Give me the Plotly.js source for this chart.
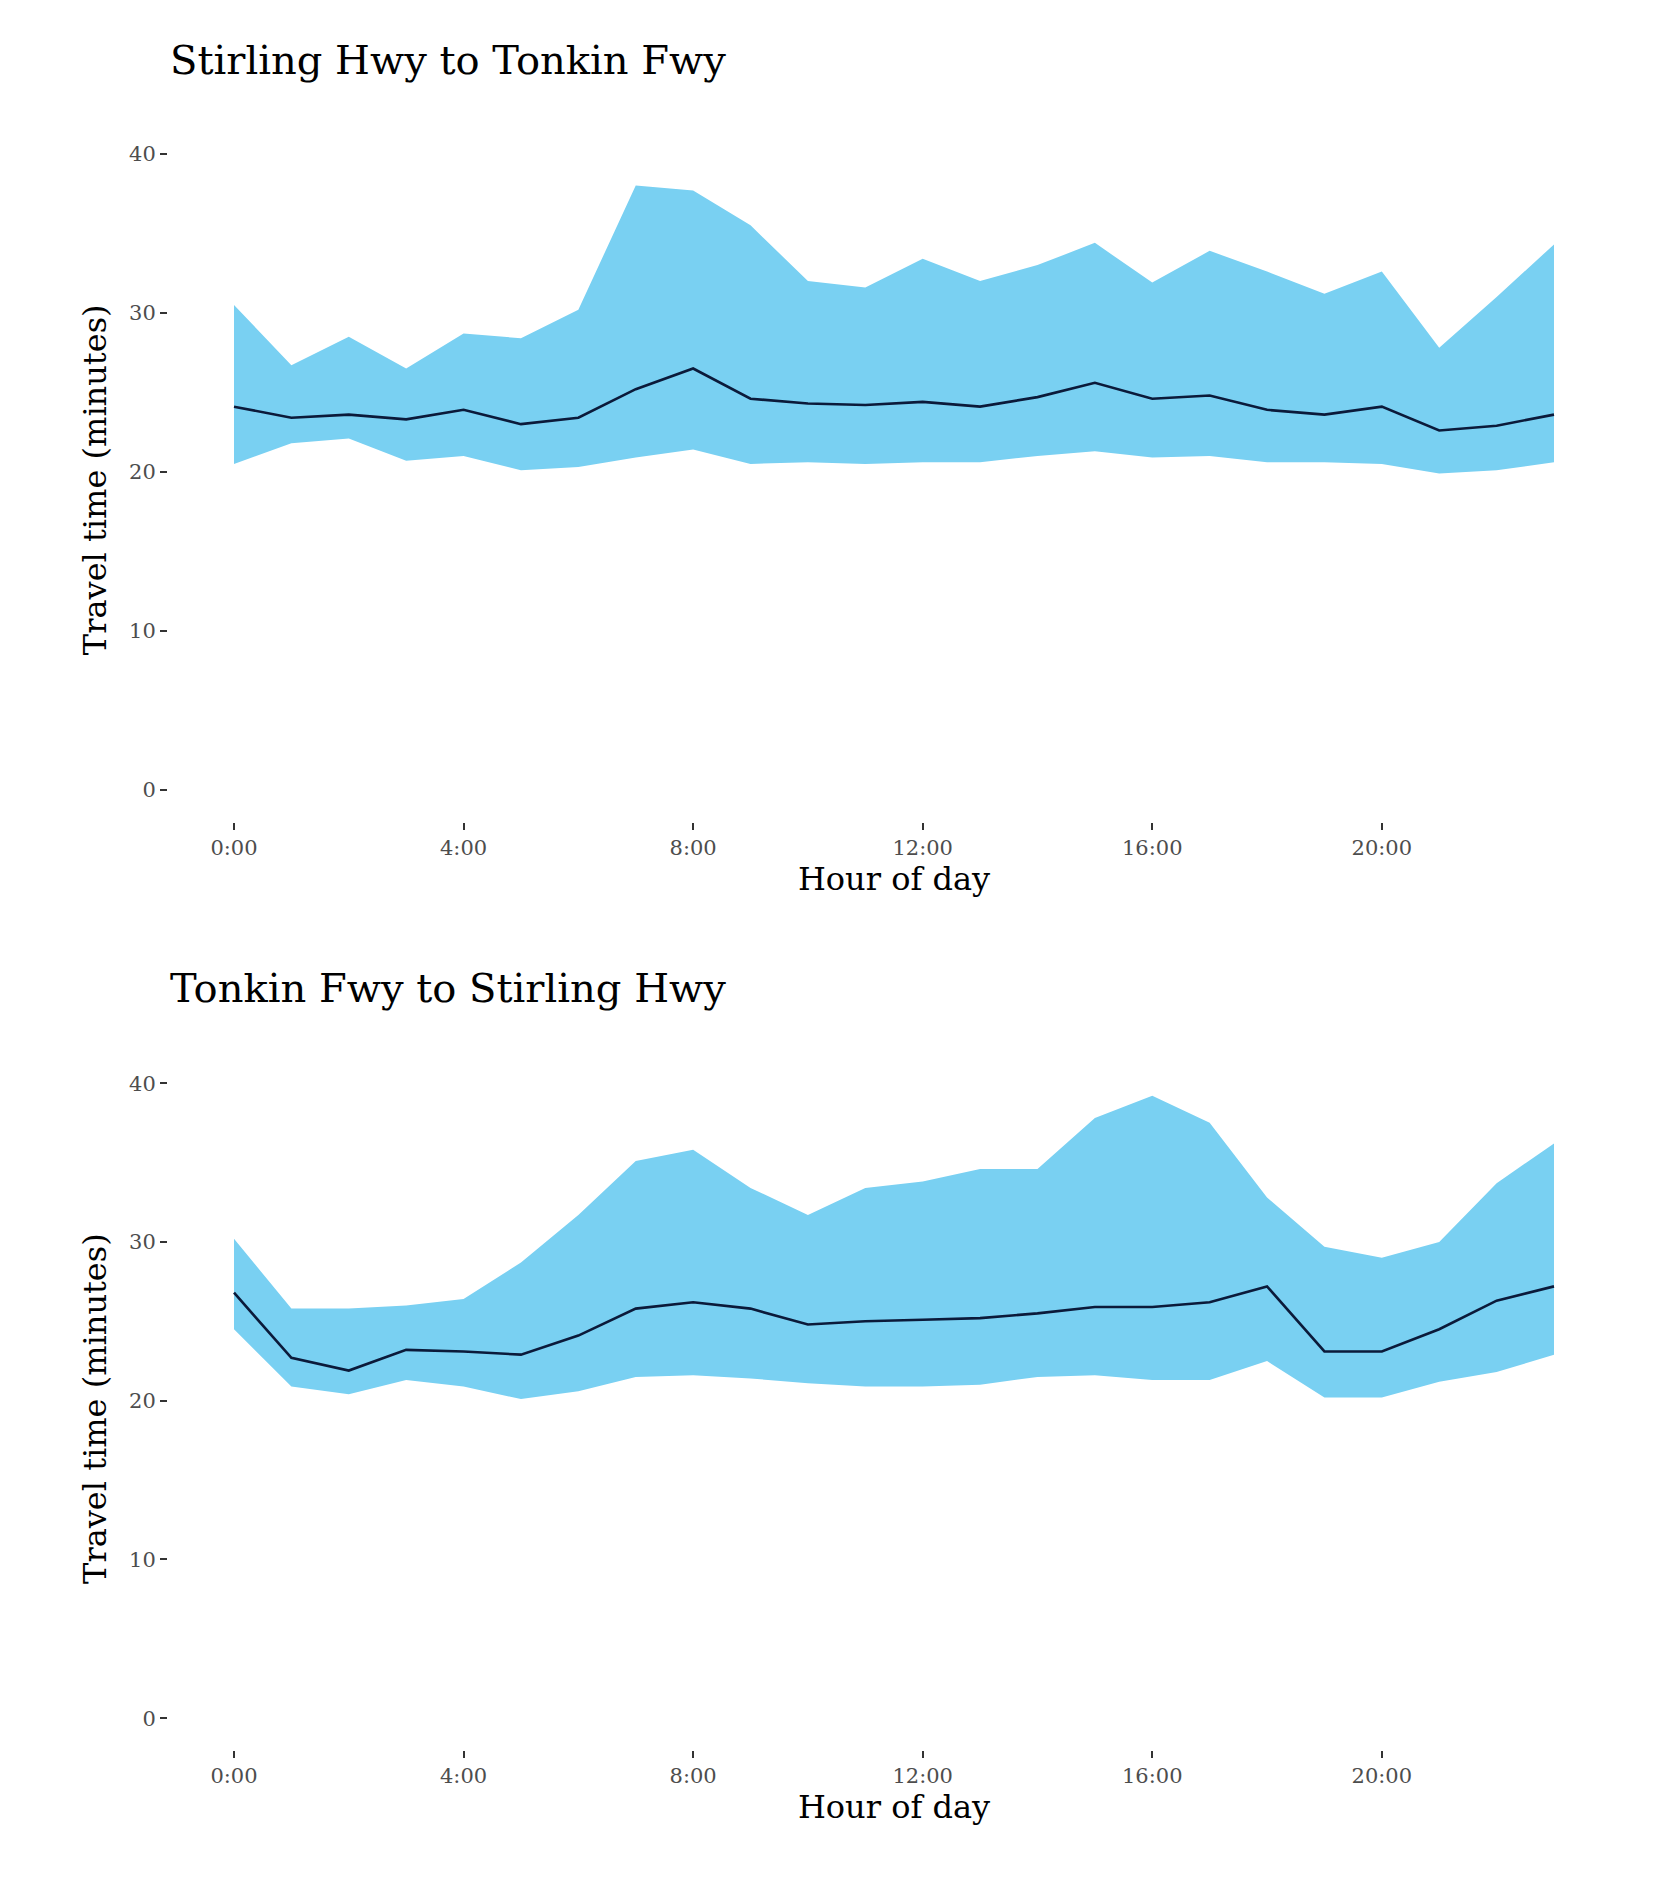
<!DOCTYPE html>
<html>
<head>
<meta charset="utf-8">
<script src="https://cdn.plot.ly/plotly-3.0.1.min.js"></script>
<style>body{margin:0;background:#fff}#chart{width:1653px;height:1889px}</style>
</head>
<body>
<div id="chart"></div>
<script>
const hours = Array.from({length: 24}, (_, i) => i);
const tickVals = [0, 4, 8, 12, 16, 20];
const tickText = ["0:00", "4:00", "8:00", "12:00", "16:00", "20:00"];

// Stirling Hwy to Tonkin Fwy
const stUpper = [30.5, 26.7, 28.5, 26.5, 28.7, 28.4, 30.2, 38.0, 37.7, 35.5, 32.0, 31.6, 33.4, 32.0, 33.0, 34.4, 31.9, 33.9, 32.6, 31.2, 32.6, 27.8, 31.0, 34.3];
const stLower = [20.5, 21.8, 22.1, 20.7, 21.0, 20.1, 20.3, 20.9, 21.4, 20.5, 20.6, 20.5, 20.6, 20.6, 21.0, 21.3, 20.9, 21.0, 20.6, 20.6, 20.5, 19.9, 20.1, 20.6];
const stMean = [24.1, 23.4, 23.6, 23.3, 23.9, 23.0, 23.4, 25.2, 26.5, 24.6, 24.3, 24.2, 24.4, 24.1, 24.7, 25.6, 24.6, 24.8, 23.9, 23.6, 24.1, 22.6, 22.9, 23.6];

// Tonkin Fwy to Stirling Hwy
const tsUpper = [30.2, 25.8, 25.8, 26.0, 26.4, 28.7, 31.7, 35.1, 35.8, 33.4, 31.7, 33.4, 33.8, 34.6, 34.6, 37.8, 39.2, 37.5, 32.8, 29.7, 29.0, 30.0, 33.7, 36.2];
const tsLower = [24.5, 20.9, 20.4, 21.3, 20.9, 20.1, 20.6, 21.5, 21.6, 21.4, 21.1, 20.9, 20.9, 21.0, 21.5, 21.6, 21.3, 21.3, 22.5, 20.2, 20.2, 21.2, 21.8, 22.9];
const tsMean = [26.8, 22.7, 21.9, 23.2, 23.1, 22.9, 24.1, 25.8, 26.2, 25.8, 24.8, 25.0, 25.1, 25.2, 25.5, 25.9, 25.9, 26.2, 27.2, 23.1, 23.1, 24.5, 26.3, 27.2];

const FILL = "#79D0F2";
const LINE = "#0B1A3A";
const FONT = "DejaVu Serif";

function panel(lower, upper, mean, ax) {
  const xa = ax === 1 ? "x" : "x2", ya = ax === 1 ? "y" : "y2";
  return [
    {x: hours, y: lower, xaxis: xa, yaxis: ya, mode: "lines", line: {width: 0}, hoverinfo: "none", showlegend: false},
    {x: hours, y: upper, xaxis: xa, yaxis: ya, mode: "lines", line: {width: 0}, fill: "tonexty", fillcolor: FILL, hoverinfo: "none", showlegend: false},
    {x: hours, y: mean, xaxis: xa, yaxis: ya, mode: "lines", line: {color: LINE, width: 2.6}, hoverinfo: "none", showlegend: false},
  ];
}

const data = [].concat(panel(stLower, stUpper, stMean, 1), panel(tsLower, tsUpper, tsMean, 2));

function xAxis(anchor, domainY) {
  return {
    anchor: anchor, range: [-1.15, 24.15], tickvals: tickVals, ticktext: tickText,
    ticks: "outside", ticklen: 7, tickwidth: 2, tickcolor: "#333",
    showgrid: false, zeroline: false, showline: false,
    tickfont: {family: FONT, size: 21, color: "#4d4d4d"},
    title: {text: "Hour of day", font: {family: FONT, size: 32, color: "#000"}, standoff: 4},
  };
}
function yAxis(anchor, domain) {
  return {
    anchor: anchor, domain: domain, range: [-2, 41], tickvals: [0, 10, 20, 30, 40],
    ticks: "outside", ticklen: 7, tickwidth: 2, tickcolor: "#333",
    showgrid: false, zeroline: false, showline: false,
    tickfont: {family: FONT, size: 21, color: "#4d4d4d"},
    title: {text: "Travel time (minutes)", font: {family: FONT, size: 32, color: "#000"}, standoff: 12},
  };
}

const layout = {
  width: 1653, height: 1889,
  margin: {l: 168, r: 33, t: 0, b: 0},
  paper_bgcolor: "#fff", plot_bgcolor: "#fff",
  xaxis: xAxis("y"),
  yaxis: yAxis("x", [0.565, 0.927]),
  xaxis2: xAxis("y2"),
  yaxis2: yAxis("x2", [0.0736, 0.435]),
  annotations: [
    {text: "Stirling Hwy to Tonkin Fwy", xref: "paper", yref: "paper", x: 0, y: 0.955, xanchor: "left", yanchor: "bottom", showarrow: false, font: {family: FONT, size: 40, color: "#000"}},
    {text: "Tonkin Fwy to Stirling Hwy", xref: "paper", yref: "paper", x: 0, y: 0.4635, xanchor: "left", yanchor: "bottom", showarrow: false, font: {family: FONT, size: 40, color: "#000"}},
  ],
};

Plotly.newPlot("chart", data, layout, {staticPlot: true});
</script>
</body>
</html>
